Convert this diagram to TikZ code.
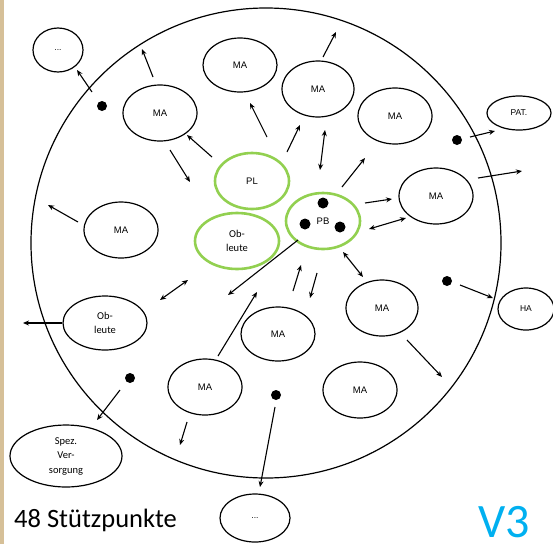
\documentclass[tikz,border=0pt]{standalone}
\usepackage{fontspec}
\setmainfont{Liberation Sans}
\newfontfamily\calib{Carlito}
\usetikzlibrary{arrows.meta,shapes.geometric}
\definecolor{ringgreen}{RGB}{146,208,80}
\definecolor{vblue}{RGB}{0,176,240}
\definecolor{edgetan}{RGB}{214,192,152}

\begin{document}
\begin{tikzpicture}[x=1pt,y=-1pt,
  bub/.style={ellipse,draw,line width=1.2pt,inner sep=0pt,align=center,
              font=\fontsize{9.5}{11}\selectfont},
  core/.style={bub,draw=ringgreen,line width=2.6pt},
  talk/.style={font=\calib\fontsize{10.5}{14.5}\selectfont},
  arr/.style={line width=1.1pt,-{Stealth[length=6pt,width=5pt]}},
  darr/.style={line width=1.1pt,{Stealth[length=6pt,width=5pt]}-{Stealth[length=6pt,width=5pt]}},
  blob/.style={circle,fill=black,inner sep=0pt,minimum size=10pt}]

\useasboundingbox (0,0) rectangle (553,544);
\fill[white] (0,0) rectangle (553,544);
\fill[edgetan] (0,0) rectangle (4,544);

% outer ring of the network
\node[circle,draw,line width=1.2pt,minimum size=470pt,inner sep=0pt] (ring) at (266,243) {};

% core team
\node[core,minimum width=74pt,minimum height=56pt] (pl) at (252,181) {PL};
\node[core,minimum width=84pt,minimum height=56pt,talk] (obc) at (237,241) {Ob-\\leute};
\node[core,minimum width=74pt,minimum height=56pt] (pb) at (323,221) {PB};
\node[blob,minimum size=11pt] (pb1) at (323,203) {};
\node[blob,minimum size=11pt] (pb2) at (305,224) {};
\node[blob,minimum size=11pt] (pb3) at (340,227) {};

% staff inside the ring
\node[bub,minimum width=74pt,minimum height=56pt] (ma1) at (160,113) {MA};
\node[bub,minimum width=74pt,minimum height=54pt] (ma2) at (240,65) {MA};
\node[bub,minimum width=72pt,minimum height=56pt] (ma3) at (318,89) {MA};
\node[bub,minimum width=74pt,minimum height=56pt] (ma4) at (395,116) {MA};
\node[bub,minimum width=74pt,minimum height=56pt] (ma5) at (436,196) {MA};
\node[bub,minimum width=74pt,minimum height=56pt] (ma6) at (121,230) {MA};
\node[bub,minimum width=84pt,minimum height=54pt,talk] (ob) at (105,323) {Ob-\\leute};
\node[bub,minimum width=74pt,minimum height=56pt] (ma7) at (205,387) {MA};
\node[bub,minimum width=74pt,minimum height=54pt] (ma8) at (278,334) {MA};
\node[bub,minimum width=72pt,minimum height=56pt] (ma9) at (382,308) {MA};
\node[bub,minimum width=74pt,minimum height=56pt] (ma10) at (360,390) {MA};

% partners outside the ring
\node[bub,minimum width=50pt,minimum height=44pt,font=\fontsize{8.5}{9}\selectfont] (etc1) at (58,50) {...};
\node[bub,minimum width=64pt,minimum height=34pt,font=\fontsize{8.5}{10}\selectfont] (pat) at (519,113) {PAT.};
\node[bub,minimum width=56pt,minimum height=42pt,font=\fontsize{8.5}{10}\selectfont] (ha) at (526,309) {HA};
\node[bub,minimum width=112pt,minimum height=62pt,talk] (spez) at (66,456) {Spez.\\Ver-\\sorgung};
\node[bub,minimum width=70pt,minimum height=48pt,font=\fontsize{8.5}{9}\selectfont] (etc2) at (255,518) {...};

% contact points
\node[blob] (d1) at (102,106) {};
\node[blob] (d2) at (457,140) {};
\node[blob] (d3) at (447,281) {};
\node[blob] (d4) at (130,378) {};
\node[blob] (d5) at (276,395) {};

% one-way flows
\foreach \n/\s/\e in {
  a1/{92,92}/{77,70}, a2/{153,77}/{142,49}, a3/{212,157}/{187,135},
  a4/{170,150}/{190,182}, a5/{267,137}/{250,103}, a6/{78,222}/{48,205},
  b1/{323,57}/{336,32}, b2/{287,152}/{300,125}, b4/{342,187}/{365,158},
  b5/{365,203}/{392,199}, b7/{470,137}/{495,131}, b8/{478,178}/{522,171},
  c1/{298,240}/{228,295}, c2/{293,291}/{301,265}, c3/{317,273}/{310,298},
  c4/{218,356}/{257,292}, d1/{62,323}/{23,323}, d2/{120,390}/{97,420},
  d3/{187,422}/{180,445}, d4/{275,407}/{260,487}, e1/{460,285}/{493,298},
  e2/{407,340}/{442,377}}{
  \coordinate (\n-s) at (\s);
  \coordinate (\n-e) at (\e);
  \draw[arr] (\n-s) -- (\n-e);
}

% two-way flows
\foreach \n/\s/\e in {
  b3/{320,170}/{325,130}, b6/{369,229}/{406,218},
  b9/{343,252}/{363,277}, c5/{160,300}/{188,280}}{
  \coordinate (\n-s) at (\s);
  \coordinate (\n-e) at (\e);
  \draw[darr] (\n-s) -- (\n-e);
}

% captions
\node[anchor=base west,inner sep=0pt,font=\calib\fontsize{26.5}{28}\selectfont] (cnt) at (14,527) {48 Stützpunkte};
\node[anchor=base west,inner sep=0pt,text=vblue,font=\calib\fontsize{48}{50}\selectfont] (ver) at (478,537) {V3};
\end{tikzpicture}
\end{document}
